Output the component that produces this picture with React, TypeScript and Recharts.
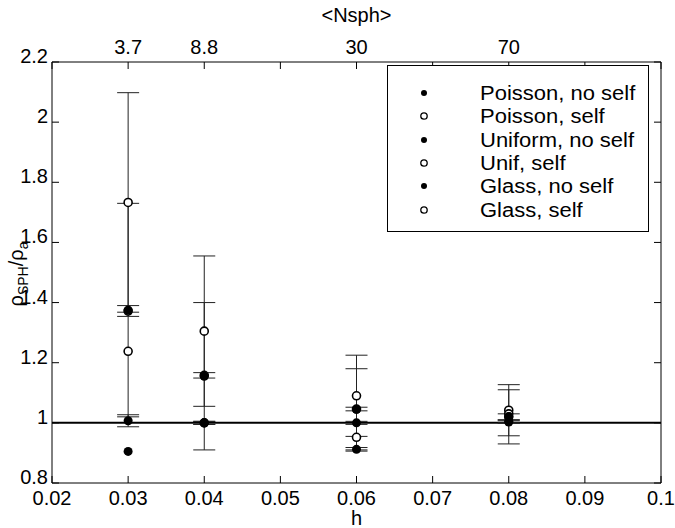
import { ScatterChart, Scatter, XAxis, YAxis, ErrorBar, ReferenceLine } from 'recharts'

// smoothing length values where the runs were made
const H = [0.03, 0.04, 0.06, 0.08]

const poissonNoSelf = [1.375, 1.155, 1.045, 1.02]
const poissonNoSelfErr = [0.355, 0.245, 0.135, 0.09]
const poissonSelf = [1.733, 1.305, 1.09, 1.042]
const poissonSelfErr = [0.365, 0.25, 0.135, 0.085]
const uniformNoSelf = [0.905, 1.0, 0.912, 1.005]
const uniformNoSelfErr = [0, 0.005, 0.006, 0.005]
const unifSelf = [1.238, 1.0, 0.952, 1.03]
const unifSelfErr = [0, 0, 0, 0]
const glassNoSelf = [1.007, 1.0, 1.0, 1.003]
const glassNoSelfErr = [0.02, 0.005, 0.005, 0.004]
const glassSelf = [1.372, 1.158, 1.046, 1.02]
const glassSelfErr = [0.018, 0.009, 0.006, 0.01]

const H_TICKS = [0.02, 0.03, 0.04, 0.05, 0.06, 0.07, 0.08, 0.09, 0.1]
const Y_TICKS = [0.8, 1, 1.2, 1.4, 1.6, 1.8, 2, 2.2]
const NSPH_POS = [0.03, 0.04, 0.06, 0.08]
const NSPH_LABELS = ['3.7', '8.8', '30', '70']

const FONT = '"Liberation Sans", Arial, sans-serif'
const FS = 20
const W = 675
const HT = 528
const PL = 52
const PR = 661
const PT = 62
const PB = 483
const TICK = 7

const rows = (vals: number[], errs: number[]) =>
  H.map((h, i) => ({ h, v: vals[i], err: errs[i] || null }))

const series = [
  { name: 'Poisson, no self', filled: true, data: rows(poissonNoSelf, poissonNoSelfErr) },
  { name: 'Poisson, self', filled: false, data: rows(poissonSelf, poissonSelfErr) },
  { name: 'Uniform, no self', filled: true, data: rows(uniformNoSelf, uniformNoSelfErr) },
  { name: 'Unif, self', filled: false, data: rows(unifSelf, unifSelfErr) },
  { name: 'Glass, no self', filled: true, data: rows(glassNoSelf, glassNoSelfErr) },
  { name: 'Glass, self', filled: false, data: rows(glassSelf, glassSelfErr) },
]

// open markers first so the filled dots sit on top of them
const drawOrder = [...series.filter(s => !s.filled), ...series.filter(s => s.filled)]

const fmtH = (v: number) => String(Number(v.toFixed(2)))
const fmtY = (v: number) => String(Number(v.toFixed(1)))

const BottomTick = (p: any) => (
  <g>
    <line x1={p.x} x2={p.x} y1={PB} y2={PB - TICK} stroke="#000" />
    <text x={p.x} y={PB + 15} textAnchor="middle" dominantBaseline="central" fontSize={FS} fontFamily={FONT}>
      {fmtH(p.payload.value)}
    </text>
  </g>
)

const TopTick = (p: any) => {
  const idx = NSPH_POS.findIndex(v => Math.abs(v - p.payload.value) < 1e-9)
  return (
    <g>
      <line x1={p.x} x2={p.x} y1={PT} y2={PT + TICK} stroke="#000" />
      {idx >= 0 && (
        <text x={p.x} y={PT - 15} textAnchor="middle" dominantBaseline="central" fontSize={FS} fontFamily={FONT}>
          {NSPH_LABELS[idx]}
        </text>
      )}
    </g>
  )
}

const LeftTick = (p: any) => (
  <g>
    <line x1={PL} x2={PL + TICK} y1={p.y} y2={p.y} stroke="#000" />
    <text x={PL - 4} y={p.y - 6} textAnchor="end" dominantBaseline="central" fontSize={FS} fontFamily={FONT}>
      {fmtY(p.payload.value)}
    </text>
  </g>
)

const RightTick = (p: any) => (
  <line x1={PR} x2={PR - TICK} y1={p.y} y2={p.y} stroke="#000" />
)

const YLabel = () => (
  <text transform="translate(23,274) rotate(-90)" textAnchor="middle" fontSize={FS} fontFamily={FONT}>
    ρ<tspan fontSize={14} dy={5}>SPH</tspan>
    <tspan fontSize={FS} dy={-5}>/ρ</tspan>
    <tspan fontSize={14} dy={5}>a</tspan>
  </text>
)

const Dot = (filled: boolean) => (p: any) =>
  filled ? (
    <circle cx={p.cx} cy={p.cy} r={4.5} fill="#000" />
  ) : (
    <circle cx={p.cx} cy={p.cy} r={4} fill="#fff" stroke="#000" strokeWidth={1.6} />
  )

function Legend() {
  return (
    <div
      style={{
        position: 'absolute', left: 387, top: 65, width: 260, height: 165,
        border: '1px solid #000', background: '#fff', fontFamily: FONT, fontSize: FS,
      }}
    >
      {series.map((s, i) => (
        <div key={s.name} style={{ position: 'absolute', left: 0, top: 16 + i * 23.3, height: 22, width: '100%' }}>
          <svg width={20} height={22} style={{ position: 'absolute', left: 26 }}>
            {s.filled ? (
              <circle cx={10} cy={11} r={3} fill="#000" />
            ) : (
              <circle cx={10} cy={11} r={3.2} fill="#fff" stroke="#000" strokeWidth={1.3} />
            )}
          </svg>
          <span
            style={{
              position: 'absolute', left: 92, top: 0, lineHeight: '22px', whiteSpace: 'nowrap',
              transform: 'scaleX(1.1)', transformOrigin: 'left center',
            }}
          >
            {s.name}
          </span>
        </div>
      ))}
    </div>
  )
}

export default function App() {
  return (
    <div style={{ position: 'absolute', left: 0, top: 0, width: W, height: HT, background: '#fff' }}>
      <ScatterChart width={W} height={HT} margin={{ top: 0, right: 0, bottom: 0, left: 0 }}>
        <XAxis
          xAxisId="bottom" type="number" dataKey="h" domain={[0.02, 0.1]} ticks={H_TICKS}
          allowDataOverflow height={HT - PB} axisLine={{ stroke: '#000' }}
          tickLine={false} tick={BottomTick} interval={0}
          label={{ value: 'h', position: 'insideBottom', offset: 3, fontSize: FS, fontFamily: FONT, fill: '#000' }}
        />
        <XAxis
          xAxisId="top" orientation="top" type="number" dataKey="h" domain={[0.02, 0.1]} ticks={H_TICKS}
          allowDataOverflow height={PT} axisLine={{ stroke: '#000' }} tickLine={false} tick={TopTick} interval={0}
          label={{ value: '<Nsph>', position: 'insideTop', offset: 8, fontSize: FS, fontFamily: FONT, fill: '#000' }}
        />
        <YAxis
          yAxisId="left" type="number" dataKey="v" domain={[0.8, 2.2]} ticks={Y_TICKS} allowDataOverflow
          width={PL} axisLine={{ stroke: '#000' }} tickLine={false} tick={LeftTick} interval={0}
          label={<YLabel />}
        />
        <YAxis
          yAxisId="right" orientation="right" type="number" dataKey="v" domain={[0.8, 2.2]} ticks={Y_TICKS}
          allowDataOverflow width={W - PR} axisLine={{ stroke: '#000' }} tickLine={false} tick={RightTick} interval={0}
        />
        <ReferenceLine xAxisId="bottom" yAxisId="left" y={1} stroke="#000" strokeWidth={2} />
        {drawOrder.map(s => (
          <Scatter
            key={s.name} name={s.name} data={s.data} xAxisId="bottom" yAxisId="left"
            shape={Dot(s.filled)} isAnimationActive={false}
          >
            <ErrorBar dataKey="err" direction="y" width={11} stroke="#222" strokeWidth={1} />
          </Scatter>
        ))}
      </ScatterChart>
      <Legend />
    </div>
  )
}
